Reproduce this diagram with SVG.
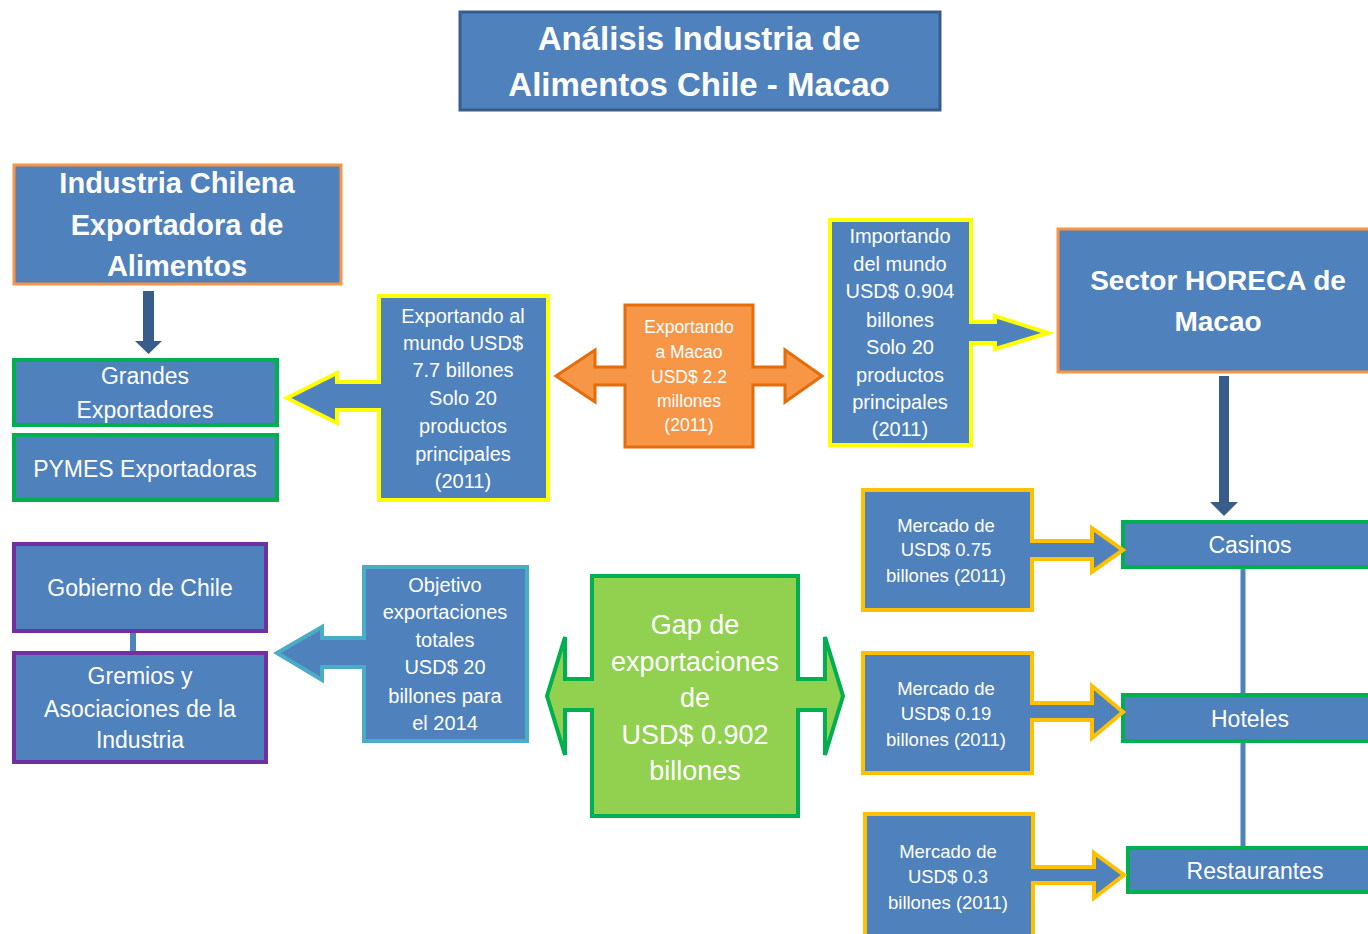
<svg xmlns="http://www.w3.org/2000/svg" width="1368" height="934" viewBox="0 0 1368 934">
  <style>
    .box { fill: #4f81bd; }
    .t { font-family: "Liberation Sans", Arial, sans-serif; fill: #ffffff; text-anchor: middle; }
    .b { font-weight: bold; }
    .orangeEdge { stroke: #f79646; stroke-width: 3; }
    .greenEdge { stroke: #00b050; stroke-width: 4; }
    .purpleEdge { stroke: #7030a0; stroke-width: 4; }
    .yellowEdge { stroke: #ffff00; stroke-width: 4; stroke-linejoin: miter; }
    .goldEdge { stroke: #ffc000; stroke-width: 4; stroke-linejoin: miter; }
    .tealEdge { stroke: #4bacc6; stroke-width: 4; stroke-linejoin: miter; }
    .dark { fill: #385d8a; }
  </style>
  <rect width="1368" height="934" fill="#ffffff"/>

  <!-- title -->
  <g id="title">
    <rect x="460" y="12" width="480" height="98" class="box" stroke="#385d8a" stroke-width="3"/>
    <text class="t b" x="699" y="50" font-size="33">Análisis Industria de</text>
    <text class="t b" x="699" y="96" font-size="33">Alimentos Chile - Macao</text>
  </g>

  <!-- connectors -->
  <g id="connectors">
    <!-- industria -> grandes -->
    <path class="dark" d="M143,291 H154 V341 H162 L148.5,354 L135,341 H143 Z"/>
    <!-- horeca -> casinos -->
    <path class="dark" d="M1219,376 H1229 V502 H1238 L1224,516 L1210,502 H1219 Z"/>
    <!-- sector chain -->
    <line x1="1243" y1="567" x2="1243" y2="695" stroke="#4f81bd" stroke-width="5"/>
    <line x1="1243" y1="741" x2="1243" y2="848" stroke="#4f81bd" stroke-width="5"/>
    <!-- gobierno - gremios -->
    <rect x="130" y="631" width="6" height="22" fill="#4f81bd"/>
  </g>

  <!-- left column -->
  <g id="industria">
    <rect x="14" y="165" width="327" height="119" class="box orangeEdge"/>
    <text class="t b" x="177" y="193" font-size="29">Industria Chilena</text>
    <text class="t b" x="177" y="235" font-size="29">Exportadora de</text>
    <text class="t b" x="177" y="276" font-size="29">Alimentos</text>
  </g>
  <g id="grandes">
    <rect x="14" y="360" width="263" height="65" class="box greenEdge"/>
    <text class="t" x="145" y="384" font-size="23">Grandes</text>
    <text class="t" x="145" y="418" font-size="23">Exportadores</text>
  </g>
  <g id="pymes">
    <rect x="14" y="435" width="263" height="65" class="box greenEdge"/>
    <text class="t" x="145" y="477" font-size="23">PYMES Exportadoras</text>
  </g>
  <g id="gobierno">
    <rect x="14" y="544" width="252" height="87" class="box purpleEdge"/>
    <text class="t" x="140" y="596" font-size="23">Gobierno de Chile</text>
  </g>
  <g id="gremios">
    <rect x="14" y="653" width="252" height="109" class="box purpleEdge"/>
    <text class="t" x="140" y="684" font-size="23">Gremios y</text>
    <text class="t" x="140" y="717" font-size="23">Asociaciones de la</text>
    <text class="t" x="140" y="748" font-size="23">Industria</text>
  </g>

  <!-- callout: exports to the world -->
  <g id="exportando-mundo">
    <path class="box yellowEdge" d="M379,296 H548 V500 H379 V410 H337 V423 L287,398 L337,373 V382 H379 Z"/>
    <text class="t" x="463" y="323" font-size="20">Exportando al</text>
    <text class="t" x="463" y="350" font-size="20">mundo USD$</text>
    <text class="t" x="463" y="377" font-size="20">7.7 billones</text>
    <text class="t" x="463" y="405" font-size="20">Solo 20</text>
    <text class="t" x="463" y="433" font-size="20">productos</text>
    <text class="t" x="463" y="461" font-size="20">principales</text>
    <text class="t" x="463" y="488" font-size="20">(2011)</text>
  </g>

  <!-- callout: exports to Macao -->
  <g id="exportando-macao">
    <path fill="#f79646" stroke="#e46c0a" stroke-width="3" d="M625,305 H753 V367 H785 V350 L822,376 L785,402 V385 H753 V447 H625 V385 H595 V402 L556,376 L595,350 V367 H625 Z"/>
    <text class="t" x="689" y="333" font-size="17.5">Exportando</text>
    <text class="t" x="689" y="358" font-size="17.5">a Macao</text>
    <text class="t" x="689" y="383" font-size="17.5">USD$ 2.2</text>
    <text class="t" x="689" y="407" font-size="17.5">millones</text>
    <text class="t" x="689" y="431" font-size="17.5">(2011)</text>
  </g>

  <!-- callout: imports -->
  <g id="importando">
    <path class="box yellowEdge" d="M830,220 H971 V322 H995 V316 L1048,333 L995,349 V343 H971 V445 H830 Z"/>
    <text class="t" x="900" y="243" font-size="20">Importando</text>
    <text class="t" x="900" y="271" font-size="20">del mundo</text>
    <text class="t" x="900" y="298" font-size="20">USD$ 0.904</text>
    <text class="t" x="900" y="327" font-size="20">billones</text>
    <text class="t" x="900" y="354" font-size="20">Solo 20</text>
    <text class="t" x="900" y="382" font-size="20">productos</text>
    <text class="t" x="900" y="409" font-size="20">principales</text>
    <text class="t" x="900" y="436" font-size="20">(2011)</text>
  </g>

  <!-- right column -->
  <g id="horeca">
    <rect x="1058" y="229" width="330" height="143" class="box orangeEdge"/>
    <text class="t b" x="1218" y="290" font-size="28">Sector HORECA de</text>
    <text class="t b" x="1218" y="331" font-size="28">Macao</text>
  </g>
  <g id="casinos">
    <rect x="1123" y="522" width="265" height="45" class="box greenEdge"/>
    <text class="t" x="1250" y="553" font-size="23">Casinos</text>
  </g>
  <g id="hoteles">
    <rect x="1123" y="695" width="265" height="46" class="box greenEdge"/>
    <text class="t" x="1250" y="727" font-size="23">Hoteles</text>
  </g>
  <g id="restaurantes">
    <rect x="1128" y="848" width="260" height="44" class="box greenEdge"/>
    <text class="t" x="1255" y="879" font-size="23">Restaurantes</text>
  </g>

  <!-- market callouts -->
  <g id="mercado-casinos">
    <path class="box goldEdge" d="M863,490 H1032 V541 H1092 V528 L1123,550 L1092,572 V559 H1032 V610 H863 Z"/>
    <text class="t" x="946" y="532" font-size="18.5">Mercado de</text>
    <text class="t" x="946" y="556" font-size="18.5">USD$ 0.75</text>
    <text class="t" x="946" y="582" font-size="18.5">billones (2011)</text>
  </g>
  <g id="mercado-hoteles">
    <path class="box goldEdge" d="M863,653 H1032 V703 H1092 V686 L1123,712 L1092,738 V720 H1032 V773 H863 Z"/>
    <text class="t" x="946" y="695" font-size="18.5">Mercado de</text>
    <text class="t" x="946" y="720" font-size="18.5">USD$ 0.19</text>
    <text class="t" x="946" y="746" font-size="18.5">billones (2011)</text>
  </g>
  <g id="mercado-restaurantes">
    <path class="box goldEdge" d="M865,814 H1033 V867 H1094 V853 L1124,875 L1094,898 V883 H1033 V940 H865 Z"/>
    <text class="t" x="948" y="858" font-size="18.5">Mercado de</text>
    <text class="t" x="948" y="883" font-size="18.5">USD$ 0.3</text>
    <text class="t" x="948" y="909" font-size="18.5">billones (2011)</text>
  </g>

  <!-- callout: export target -->
  <g id="objetivo">
    <path class="box tealEdge" d="M364,567 H527 V741 H364 V667 H322 V680 L277,653 L322,627 V638 H364 Z"/>
    <text class="t" x="445" y="592" font-size="20">Objetivo</text>
    <text class="t" x="445" y="619" font-size="20">exportaciones</text>
    <text class="t" x="445" y="647" font-size="20">totales</text>
    <text class="t" x="445" y="674" font-size="20">USD$ 20</text>
    <text class="t" x="445" y="703" font-size="20">billones para</text>
    <text class="t" x="445" y="730" font-size="20">el 2014</text>
  </g>

  <!-- callout: export gap -->
  <g id="gap">
    <path fill="#92d050" stroke="#00b050" stroke-width="4" d="M592,576 H798 V679 H825 V637 L843,696 L825,755 V710 H798 V816 H592 V710 H565 V755 L547,696 L565,637 V679 H592 Z"/>
    <text class="t" x="695" y="634" font-size="27">Gap de</text>
    <text class="t" x="695" y="671" font-size="27">exportaciones</text>
    <text class="t" x="695" y="707" font-size="27">de</text>
    <text class="t" x="695" y="744" font-size="27">USD$ 0.902</text>
    <text class="t" x="695" y="780" font-size="27">billones</text>
  </g>
</svg>
